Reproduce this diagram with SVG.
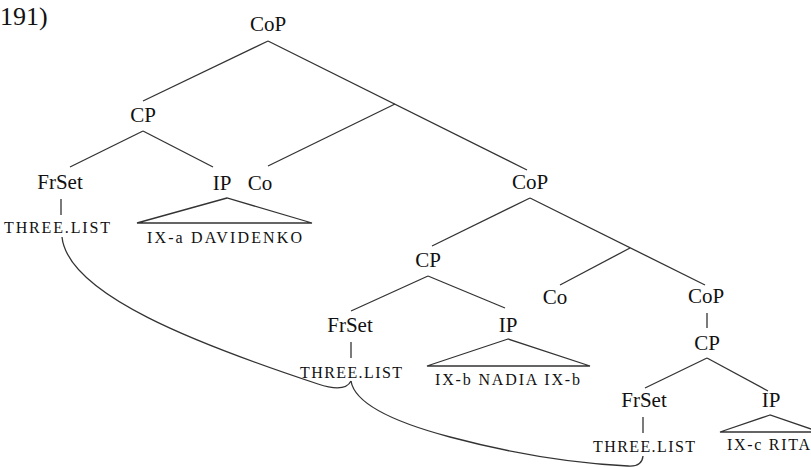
<svg xmlns="http://www.w3.org/2000/svg" width="811" height="467" viewBox="0 0 811 467" font-family="'Liberation Serif', 'Times New Roman', Tinos, 'DejaVu Serif', 'Noto Serif', Times, serif">
<style>
text{font-family:'Liberation Serif','Times New Roman',Tinos,'DejaVu Serif','Noto Serif',Times,serif;fill:#111}
.lbl{font-size:21px;text-anchor:middle}
.sc{font-size:16px}
.num{font-size:26px}
.ln{stroke:#333;stroke-width:1.3;fill:none}
</style>
<rect width="811" height="467" fill="#fff"/>
<text class="num" x="0" y="25">191)</text>
<g id="connectors">
<line class="ln" x1="268" y1="41" x2="143" y2="101"/>
<line class="ln" x1="268" y1="41" x2="527" y2="170"/>
<line class="ln" x1="395" y1="104" x2="268" y2="166"/>
<line class="ln" x1="143" y1="131" x2="70" y2="167"/>
<line class="ln" x1="143" y1="131" x2="213" y2="167"/>
<line class="ln" x1="61" y1="199" x2="61" y2="215"/>
<line class="ln" x1="530" y1="198" x2="432" y2="246"/>
<line class="ln" x1="530" y1="198" x2="705" y2="285"/>
<line class="ln" x1="630" y1="248" x2="560" y2="285"/>
<line class="ln" x1="428" y1="276" x2="351" y2="311"/>
<line class="ln" x1="428" y1="276" x2="505" y2="308"/>
<line class="ln" x1="351" y1="342" x2="351" y2="358"/>
<line class="ln" x1="707" y1="313" x2="707" y2="328"/>
<line class="ln" x1="707" y1="358" x2="645" y2="388"/>
<line class="ln" x1="707" y1="358" x2="768" y2="391"/>
<line class="ln" x1="643" y1="417" x2="643" y2="433"/>
<path class="ln" d="M62,237 C68,295 200,345 318,384 Q345,393 351,381"/>
<path class="ln" d="M351,381 Q356,412 450,437 T628,466 Q642,467 643,456"/>
</g>
<g id="cop1"><text class="lbl" x="268" y="31">CoP</text></g>
<g id="cp1"><text class="lbl" x="143" y="122">CP</text></g>
<g id="frset1"><text class="lbl" x="60" y="189">FrSet</text></g>
<g id="three1"><text class="sc" x="4" y="233" textLength="106" lengthAdjust="spacing">THREE.LIST</text></g>
<g id="ip1"><text class="lbl" x="222" y="190">IP</text>
<polygon class="ln" points="227,198 137,223 312,223"/>
<text class="sc" x="147" y="243" textLength="155" lengthAdjust="spacing">IX-a  DAVIDENKO</text></g>
<g id="co1"><text class="lbl" x="260" y="190">Co</text></g>
<g id="cop2"><text class="lbl" x="530" y="189">CoP</text></g>
<g id="cp2"><text class="lbl" x="428" y="267">CP</text></g>
<g id="co2"><text class="lbl" x="555" y="304">Co</text></g>
<g id="frset2"><text class="lbl" x="350" y="332">FrSet</text></g>
<g id="three2"><text class="sc" x="300" y="378" textLength="102" lengthAdjust="spacing">THREE.LIST</text></g>
<g id="ip2"><text class="lbl" x="508" y="332">IP</text>
<polygon class="ln" points="508,339 427,366 590,366"/>
<text class="sc" x="435" y="385" textLength="145" lengthAdjust="spacing">IX-b NADIA IX-b</text></g>
<g id="cop3"><text class="lbl" x="706" y="303">CoP</text></g>
<g id="cp3"><text class="lbl" x="707" y="350">CP</text></g>
<g id="frset3"><text class="lbl" x="644" y="407">FrSet</text></g>
<g id="three3"><text class="sc" x="593" y="452" textLength="102" lengthAdjust="spacing">THREE.LIST</text></g>
<g id="ip3"><text class="lbl" x="771" y="407">IP</text>
<polygon class="ln" points="770,415 720,432 820,432"/>
<text class="sc" x="727" y="450" textLength="83" lengthAdjust="spacing">IX-c RITA</text></g>
</svg>
